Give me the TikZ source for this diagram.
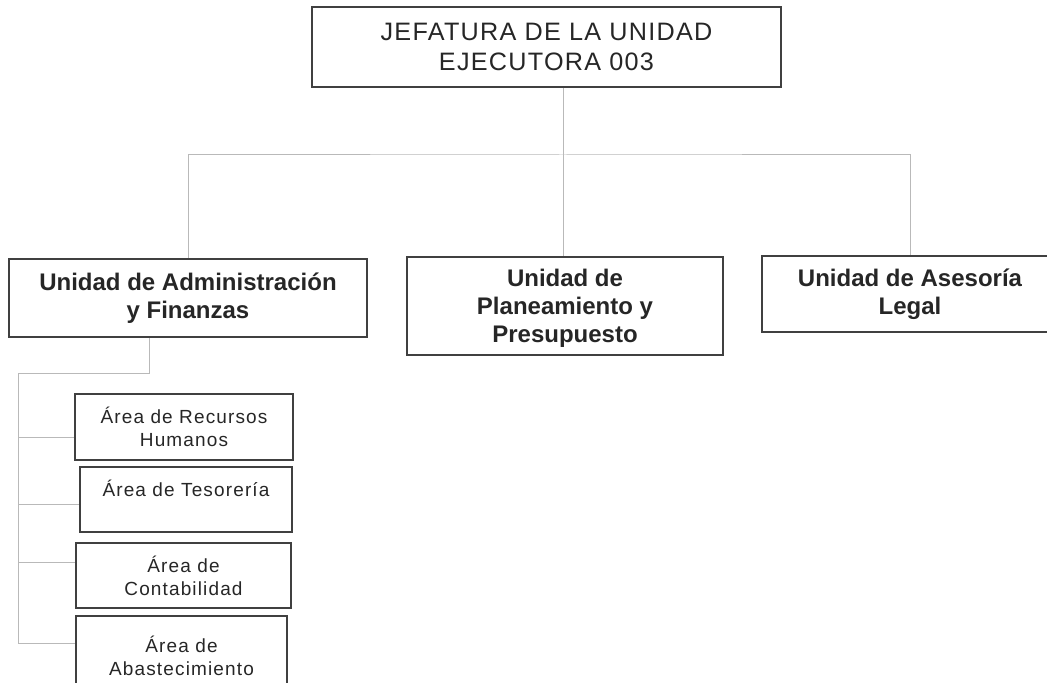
\documentclass[tikz,border=0pt]{standalone}
\usepackage{fontspec}
\setmainfont{Liberation Sans}
\newfontfamily\titlefont[LetterSpace=5]{Liberation Sans}
\newfontfamily\areafont[LetterSpace=6]{Liberation Sans}
\usepackage{xcolor}
\usepackage{tikz}
\usetikzlibrary{positioning}

\begin{document}
\begin{tikzpicture}[x=0.5pt, y=-0.5pt, % pixel grid of the scan
			block/.style={
					rectangle,
					draw=black!75,
					line width=0.8pt,
					text=black!85,
					align=center,
					inner sep=0.2em
				},
			topblock/.style={block, font=\titlefont\fontsize{12.6}{15}\selectfont},
			unitblock/.style={block, font=\bfseries\fontsize{12}{14}\selectfont},
			areablock/.style={block, line width=0.7pt, font=\areafont\fontsize{9.5}{11.5}\selectfont},
			line/.style={draw, gray!55, line width=0.5pt}
		]
		\useasboundingbox (0,0) rectangle (1047,683);
		% Place nodes
		\node [topblock, minimum width=234.5pt, minimum height=40pt] (jefatura) at (546.5,47) {JEFATURA DE LA UNIDAD\\EJECUTORA 003};
		\node [unitblock, minimum width=179pt, minimum height=39pt] (admin) at (188,298) {Unidad de Administración\\y Finanzas};
		\node [unitblock, minimum width=158pt, minimum height=49pt, text depth=0pt] (planeamiento) at (565,306) {Unidad de\\Planeamiento y\\Presupuesto};
		\node [unitblock, minimum width=148pt, minimum height=38pt] (legal) at (910,294) {Unidad de Asesoría\\Legal};
		\node [areablock, minimum width=109pt, minimum height=33pt] (rrhh) at (184,427) {Área de Recursos\\Humanos};
		\node [areablock, minimum width=106pt, minimum height=32.5pt] (tesoreria) at (186,499.5) {Área de Tesorería\\\mbox{}};
		\node [areablock, minimum width=107.5pt, minimum height=32.5pt] (contabilidad) at (183.5,575.5) {Área de\\Contabilidad};
		\node [areablock, minimum width=105.5pt, minimum height=40pt] (abastecimiento) at (181.5,656) {Área de\\Abastecimiento};
		\coordinate (bus) at (563,155);
		\coordinate (drop) at (149,374);
		\coordinate (spine) at (18,374);
		% Draw edges
		\path [line] (jefatura.south -| bus) -- (bus);
		\path [line] (admin.north) |- (bus) -| (legal.north);
		\path [line] (bus) -- (bus |- planeamiento.north);
		\path [line] (admin.south -| drop) -- (drop) -- (spine) |- ([yshift=6.5pt]abastecimiento.west);
		\path [line] ([yshift=-5pt]rrhh.west -| spine) -- ([yshift=-5pt]rrhh.west);
		\path [line] ([yshift=-2.25pt]tesoreria.west -| spine) -- ([yshift=-2.25pt]tesoreria.west);
		\path [line] ([yshift=6.75pt]contabilidad.west -| spine) -- ([yshift=6.75pt]contabilidad.west);
	\end{tikzpicture}
\end{document}
